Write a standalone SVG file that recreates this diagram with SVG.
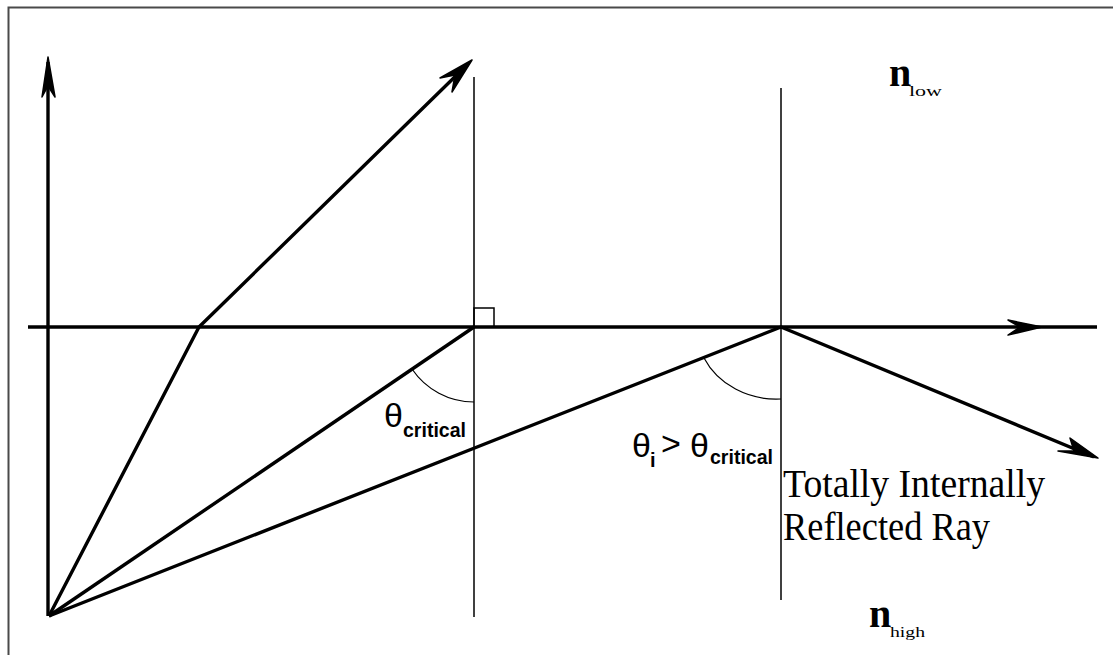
<svg xmlns="http://www.w3.org/2000/svg" width="1113" height="655" viewBox="0 0 1113 655">
<style>
.ray{stroke:#000;stroke-width:3.4;fill:none;stroke-linejoin:round}
.thin{stroke:#000;stroke-width:1.5;fill:none}
.arc{stroke:#000;stroke-width:1.2;fill:none}
.head{fill:#000;stroke:#000;stroke-width:1.5;stroke-linejoin:round}
.theta{font-family:"Liberation Sans",Arial,sans-serif;font-size:34px;fill:#000}
.sub{font-family:"Liberation Sans",Arial,sans-serif;font-weight:bold;font-size:20px;fill:#000}
.lbl{font-family:"Liberation Serif","Times New Roman",serif;font-size:39px;fill:#000}
.n{font-family:"Liberation Serif","Times New Roman",serif;font-weight:bold;font-size:40px;fill:#000}
.nsub{font-family:"Liberation Serif","Times New Roman",serif;font-size:15px;fill:#000}
</style>
<rect width="1113" height="655" fill="#fff"/>
<rect x="8.5" y="7.5" width="1200" height="1000" fill="none" stroke="#4a4a4a" stroke-width="2"/>
<g id="connectors">
  <line class="ray" x1="48" y1="616" x2="48" y2="62"/>
  <line class="ray" x1="28" y1="327" x2="1097" y2="327"/>
  <polyline class="ray" points="49,616 199,327 468,64"/>
  <line class="ray" x1="49" y1="616" x2="474" y2="327"/>
  <polyline class="ray" points="49,616 781,327 1094,457"/>
  <path class="head" d="M48,57 L42,97 L48,86 L55,97 Z"/>
  <path class="head" d="M1042,327 L1008,320 L1020,327 L1008,335 Z"/>
  <path class="head" d="M472,60 L440,78 L455,75 L452,92 Z"/>
  <path class="head" d="M1098,458 L1070,438 L1074,451 L1058,451 Z"/>
</g>
<g id="normals">
  <line class="thin" x1="474" y1="77" x2="474" y2="617"/>
  <line class="thin" x1="781" y1="88" x2="781" y2="600"/>
  <rect class="thin" x="474" y="308" width="20" height="19"/>
  <path class="arc" d="M412,369 A75,75 0 0 0 474,402"/>
  <path class="arc" d="M704,358 A80,72 0 0 0 781,399"/>
</g>
<g id="label-critical">
  <text class="theta" x="384" y="427">θ</text>
  <text class="sub" x="403" y="437" textLength="63" lengthAdjust="spacingAndGlyphs">critical</text>
</g>
<g id="label-incident">
  <text class="theta" x="632" y="457">θ</text>
  <text class="sub" x="650" y="467">i</text>
  <text class="theta" x="661" y="455" font-size="28">&gt;</text>
  <text class="theta" x="690" y="457">θ</text>
  <text class="sub" x="710" y="464" textLength="63" lengthAdjust="spacingAndGlyphs">critical</text>
</g>
<g id="label-tir">
  <text class="lbl" x="783" y="497" textLength="262" lengthAdjust="spacingAndGlyphs">Totally Internally</text>
  <text class="lbl" x="783" y="540" textLength="207" lengthAdjust="spacingAndGlyphs">Reflected Ray</text>
</g>
<g id="label-nlow">
  <text class="n" x="889" y="86">n</text>
  <text class="nsub" x="909" y="96" textLength="33" lengthAdjust="spacingAndGlyphs">low</text>
</g>
<g id="label-nhigh">
  <text class="n" x="869" y="627">n</text>
  <text class="nsub" x="890" y="637" textLength="35" lengthAdjust="spacingAndGlyphs">high</text>
</g>
</svg>
